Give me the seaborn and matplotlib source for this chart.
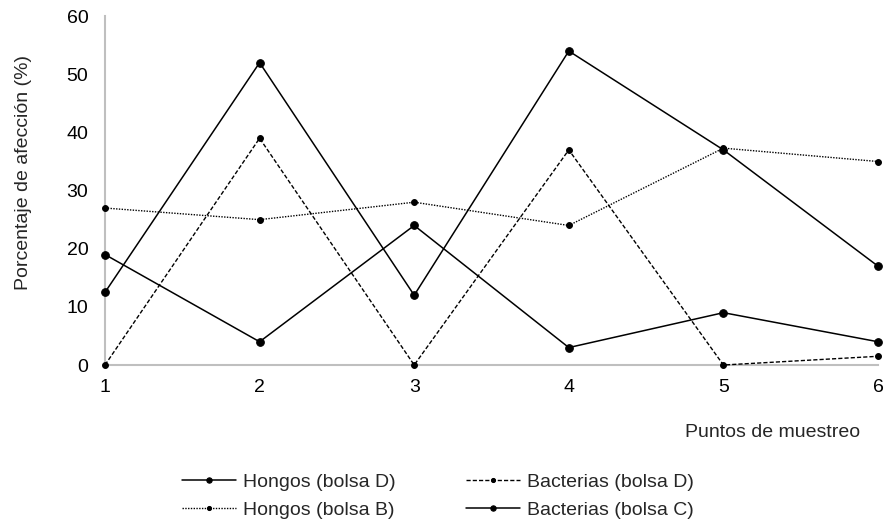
import matplotlib
matplotlib.use("Agg")
import matplotlib.pyplot as plt
import seaborn as sns
import pandas as pd

# data
puntos = [1, 2, 3, 4, 5, 6]
hongos_d = [12.5, 52, 12, 54, 37, 17]
bacterias_d = [0, 39, 0, 37, 0, 1.5]
hongos_b = [27, 25, 28, 24, 37.3, 35]
bacterias_c = [19, 4, 24, 3, 9, 4]
series_names = ["Hongos (bolsa D)", "Bacterias (bolsa D)", "Hongos (bolsa B)", "Bacterias (bolsa C)"]

sns.set_style("white")
plt.rcParams['font.family'] = ['Liberation Sans', 'DejaVu Sans']
fs = 14

fig = plt.figure(figsize=(8.86, 5.21), dpi=100)
ax = fig.add_axes([0.1185, 0.2994, 0.8725, 0.6696])

styles = [
    dict(linestyle="-", marker="o", markersize=5.5, linewidth=1.1),
    dict(linestyle=(0, (3, 1.5)), marker="o", markersize=4.2, linewidth=1.0),
    dict(linestyle=(0, (1, 1)), marker="o", markersize=4.2, linewidth=1.0),
    dict(linestyle="-", marker="o", markersize=5.5, linewidth=1.1),
]
values = [hongos_d, bacterias_d, hongos_b, bacterias_c]

for name, vals, st in zip(series_names, values, styles):
    df = pd.DataFrame({"x": puntos, "y": vals})
    sns.lineplot(data=df, x="x", y="y", ax=ax, color="black", label=name,
                 markeredgecolor="black", clip_on=False, zorder=3, **st)

ax.set_xlim(1, 6)
ax.set_ylim(0, 60)
ax.set_xticks(puntos)
ax.set_yticks(range(0, 61, 10))
ax.tick_params(axis="both", length=0, labelsize=fs, colors="black")
ax.tick_params(axis="x", pad=10)
ax.tick_params(axis="y", pad=12)

for side in ["top", "right"]:
    ax.spines[side].set_visible(False)
for side in ["left", "bottom"]:
    ax.spines[side].set_color("#bfbfbf")
    ax.spines[side].set_linewidth(1.5)

ax.set_ylabel("Porcentaje de afección (%)", fontsize=fs)
ax.yaxis.set_label_coords(-0.094, 0.553)
ax.set_xlabel("")
fig.text(0.971, 0.169, "Puntos de muestreo", ha="right", va="center", fontsize=fs)

# legend filled row by row like the original
handles, labels = ax.get_legend_handles_labels()
ax.get_legend().remove()
order = [0, 2, 1, 3]
fig.legend([handles[i] for i in order], [labels[i] for i in order], ncol=2,
           loc="lower center", bbox_to_anchor=(0.494, -0.015),
           frameon=False, fontsize=fs, handlelength=2.8, handletextpad=0.35,
           columnspacing=3.6, labelspacing=0.55, markerscale=0.7,
           borderpad=0.0)

fig.savefig("out.png", dpi=100)
